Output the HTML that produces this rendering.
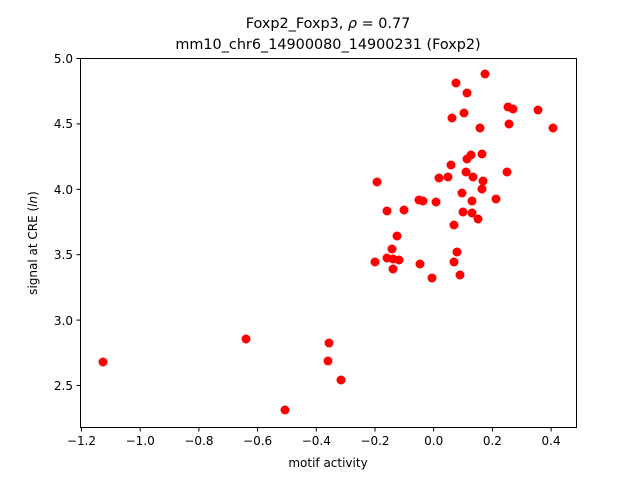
<!DOCTYPE html>
<html><head><meta charset="utf-8"><style>body{margin:0;background:#fff}</style></head><body>
<svg width="640" height="480" xmlns="http://www.w3.org/2000/svg" font-family="DejaVu Sans, Liberation Sans, sans-serif">
<rect width="640" height="480" fill="#fff"/>
<text x="328" y="28" font-size="14.4" text-anchor="middle">Foxp2_Foxp3, <tspan font-style="italic">ρ</tspan> = 0.77</text>
<text x="328" y="49" font-size="14.4" text-anchor="middle">mm10_chr6_14900080_14900231 (Foxp2)</text>
<g fill="red">
<circle cx="103" cy="362" r="4.5"/><circle cx="246" cy="339" r="4.5"/><circle cx="285" cy="410" r="4.5"/><circle cx="329" cy="343" r="4.5"/><circle cx="328" cy="361" r="4.5"/><circle cx="341" cy="380" r="4.5"/><circle cx="377" cy="182" r="4.5"/><circle cx="375" cy="262" r="4.5"/><circle cx="387" cy="211" r="4.5"/><circle cx="387" cy="258" r="4.5"/><circle cx="392" cy="249" r="4.5"/><circle cx="393" cy="269" r="4.5"/><circle cx="393" cy="259" r="4.5"/><circle cx="397" cy="236" r="4.5"/><circle cx="399" cy="260" r="4.5"/><circle cx="404" cy="210" r="4.5"/><circle cx="419" cy="200" r="4.5"/><circle cx="423" cy="201" r="4.5"/><circle cx="432" cy="278" r="4.5"/><circle cx="420" cy="264" r="4.5"/><circle cx="436" cy="202" r="4.5"/><circle cx="439" cy="178" r="4.5"/><circle cx="448" cy="177" r="4.5"/><circle cx="451" cy="165" r="4.5"/><circle cx="452" cy="118" r="4.5"/><circle cx="454" cy="262" r="4.5"/><circle cx="454" cy="225" r="4.5"/><circle cx="456" cy="83" r="4.5"/><circle cx="457" cy="252" r="4.5"/><circle cx="460" cy="275" r="4.5"/><circle cx="462" cy="193" r="4.5"/><circle cx="463" cy="212" r="4.5"/><circle cx="464" cy="113" r="4.5"/><circle cx="466" cy="172" r="4.5"/><circle cx="467" cy="93" r="4.5"/><circle cx="467" cy="159" r="4.5"/><circle cx="472" cy="213" r="4.5"/><circle cx="471" cy="155" r="4.5"/><circle cx="472" cy="201" r="4.5"/><circle cx="473" cy="177" r="4.5"/><circle cx="478" cy="219" r="4.5"/><circle cx="480" cy="128" r="4.5"/><circle cx="482" cy="154" r="4.5"/><circle cx="482" cy="189" r="4.5"/><circle cx="483" cy="181" r="4.5"/><circle cx="485" cy="74" r="4.5"/><circle cx="496" cy="199" r="4.5"/><circle cx="507" cy="172" r="4.5"/><circle cx="508" cy="107" r="4.5"/><circle cx="513" cy="109" r="4.5"/><circle cx="509" cy="124" r="4.5"/><circle cx="538" cy="110" r="4.5"/><circle cx="553" cy="128" r="4.5"/>
</g>
<rect x="80.5" y="58.5" width="496" height="369" fill="none" stroke="#000" stroke-width="1"/>
<g stroke="#000">
<line x1="81.5" y1="428" x2="81.5" y2="431.5"/><line x1="140.2" y1="428" x2="140.2" y2="431.5"/><line x1="198.9" y1="428" x2="198.9" y2="431.5"/><line x1="257.6" y1="428" x2="257.6" y2="431.5"/><line x1="316.3" y1="428" x2="316.3" y2="431.5"/><line x1="375" y1="428" x2="375" y2="431.5"/><line x1="433.7" y1="428" x2="433.7" y2="431.5"/><line x1="492.4" y1="428" x2="492.4" y2="431.5"/><line x1="551.1" y1="428" x2="551.1" y2="431.5"/>
<line x1="76.5" y1="58.5" x2="80" y2="58.5"/><line x1="76.5" y1="123.9" x2="80" y2="123.9"/><line x1="76.5" y1="189.3" x2="80" y2="189.3"/><line x1="76.5" y1="254.7" x2="80" y2="254.7"/><line x1="76.5" y1="320.1" x2="80" y2="320.1"/><line x1="76.5" y1="385.5" x2="80" y2="385.5"/>
</g>
<g font-size="12" text-anchor="middle">
<text x="81.5" y="445">−1.2</text><text x="140.2" y="445">−1.0</text><text x="198.9" y="445">−0.8</text><text x="257.6" y="445">−0.6</text><text x="316.3" y="445">−0.4</text><text x="375" y="445">−0.2</text><text x="433.7" y="445">0.0</text><text x="492.4" y="445">0.2</text><text x="551.1" y="445">0.4</text>
<text x="328" y="467">motif activity</text>
</g>
<g font-size="12" text-anchor="end">
<text x="73" y="63">5.0</text><text x="73" y="128">4.5</text><text x="73" y="194">4.0</text><text x="73" y="259">3.5</text><text x="73" y="325">3.0</text><text x="73" y="390">2.5</text>
</g>
<text transform="translate(37,243) rotate(-90)" font-size="12" text-anchor="middle">signal at CRE (<tspan font-style="italic">ln</tspan>)</text>
</svg>
</body></html>
